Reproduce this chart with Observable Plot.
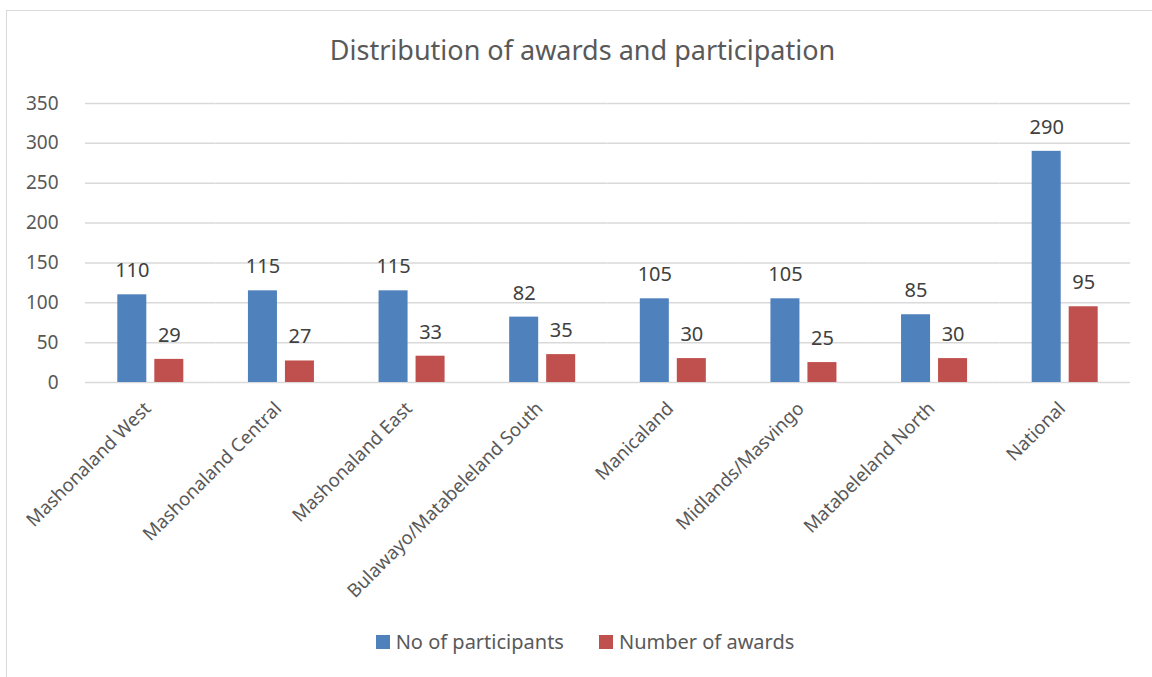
<!DOCTYPE html>
<html>
<head>
<meta charset="utf-8">
<script src="https://cdn.jsdelivr.net/npm/d3@7"></script>
<script src="https://cdn.jsdelivr.net/npm/@observablehq/plot@0.6"></script>
<style>
  html, body { margin: 0; padding: 0; background: #fff; }
  #wrap { position: relative; width: 1152px; height: 677px; overflow: hidden; font-family: "Noto Sans", sans-serif; color: #595959; }
  #frame { position: absolute; left: 6px; top: 10px; width: 1200px; height: 720px; border: 1.5px solid #d9d9d9; box-sizing: border-box; }
  #title { position: absolute; left: 0; top: 31px; width: 1165px; text-align: center; font-size: 27px; color: #595959; }
  #chart { position: absolute; left: 0; top: 85px; }
  #legend { position: absolute; left: 0; top: 628px; width: 1170px; display: flex; justify-content: center; gap: 35px; font-size: 20px; color: #595959; }
  .item { display: flex; align-items: center; gap: 6px; }
  .sw { width: 14px; height: 14px; display: inline-block; }
</style>
</head>
<body>
<div id="wrap">
  <div id="frame"></div>
  <div id="title">Distribution of awards and participation</div>
  <div id="chart"></div>
  <div id="legend"></div>
</div>
<script>
const regions = ["Mashonaland West", "Mashonaland Central", "Mashonaland East", "Bulawayo/Matabeleland South", "Manicaland", "Midlands/Masvingo", "Matabeleland North", "National"];
const participants = [110, 115, 115, 82, 105, 105, 85, 290];
const awards = [29, 27, 33, 35, 30, 25, 30, 95];
const seriesNames = ["No of participants", "Number of awards"];
const seriesColors = ["#4f81bd", "#c0504d"];
const yTicks = [0, 50, 100, 150, 200, 250, 300, 350];

const data = [];
regions.forEach((r, i) => {
  data.push({region: r, series: seriesNames[0], value: participants[i]});
  data.push({region: r, series: seriesNames[1], value: awards[i]});
});

const chart = Plot.plot({
  width: 1152,
  height: 530,
  marginLeft: 85,
  marginRight: 22,
  marginTop: 18,
  marginBottom: 233,
  style: {fontFamily: "Noto Sans, sans-serif", fontSize: "19px", color: "#595959", background: "transparent"},
  fx: {domain: regions, padding: 0, round: false, label: null},
  x: {domain: seriesNames, paddingInner: 0.216, paddingOuter: 0.873, round: false, axis: null},
  y: {domain: [0, 350], label: null},
  color: {domain: seriesNames, range: seriesColors},
  marks: [
    Plot.gridY(yTicks, {stroke: "#d9d9d9", strokeOpacity: 1, strokeWidth: 1.5}),
    Plot.axisY(yTicks, {tickSize: 0, tickPadding: 27, fontSize: 19, fill: "#595959", label: null}),
    Plot.axisFx({anchor: "bottom", tickRotate: -45, tickSize: 0, tickPadding: 23, dx: -3, fontSize: 18.6, fill: "#595959", label: null, textOverflow: null, lineWidth: Infinity}),
    Plot.barY(data, {fx: "region", x: "series", y: "value", fill: "series"}),
    Plot.text(data, {fx: "region", x: "series", y: "value", text: d => String(d.value), dy: -24, fontSize: 20, fill: "#404040"})
  ]
});
document.getElementById("chart").appendChild(chart);

const legend = document.getElementById("legend");
seriesNames.forEach((s, i) => {
  const it = document.createElement("div");
  it.className = "item";
  const sw = document.createElement("span");
  sw.className = "sw";
  sw.style.background = seriesColors[i];
  const t = document.createElement("span");
  t.textContent = s;
  it.appendChild(sw);
  it.appendChild(t);
  legend.appendChild(it);
});
</script>
</body>
</html>
